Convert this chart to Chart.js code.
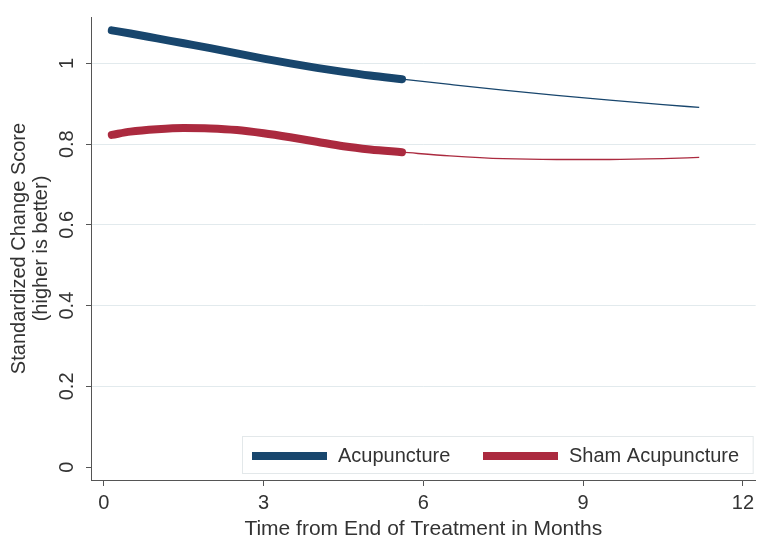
<!DOCTYPE html>
<html>
<head>
<meta charset="utf-8">
<script src="https://cdn.jsdelivr.net/npm/chart.js@4/dist/chart.umd.min.js"></script>
<style>
  html, body { margin: 0; padding: 0; background: #fff; }
  #wrap { width: 759px; height: 541px; position: relative; }
</style>
</head>
<body>
<div id="wrap"><canvas id="c"></canvas></div>
<script>
// Months after end of treatment: observed follow-up window and projected window
const obsMonths  = [0.15, 0.5, 1, 1.5, 2, 2.5, 3, 3.5, 4, 4.5, 5, 5.6];
const projMonths = [5.6, 6.5, 7.5, 8.5, 9.5, 10.5, 11.18];

// Standardized change score, acupuncture group
const acuObs  = [1.082, 1.074, 1.062, 1.050, 1.038, 1.025, 1.012, 1.000, 0.989, 0.979, 0.970, 0.961];
const acuProj = [0.961, 0.948, 0.934, 0.921, 0.909, 0.898, 0.891];

// Standardized change score, sham acupuncture group
const shamObs  = [0.823, 0.831, 0.837, 0.840, 0.839, 0.835, 0.827, 0.817, 0.806, 0.795, 0.787, 0.780];
const shamProj = [0.780, 0.771, 0.764, 0.762, 0.762, 0.764, 0.767];

// Axis ticks
const xTicks = [0, 3, 6, 9, 12];
const yTicks = [0, 0.2, 0.4, 0.6, 0.8, 1];

const seriesNames = ['Acupuncture', 'Sham Acupuncture'];
const BLUE = '#18466d';
const RED  = '#ab2a3f';
const FONT = "'Liberation Sans', Arial, sans-serif";
const TEXT = '#333';
const AXIS = '#555';

const pts = (xs, ys) => xs.map((x, i) => ({ x, y: ys[i] }));

// Legend drawn inside the plot region, lower right, framed box
const boxedLegend = {
  id: 'boxedLegend',
  afterDatasetsDraw(chart) {
    const ctx = chart.ctx;
    const a = chart.chartArea;
    const left = 242.5, top = 436.5, right = a.right - 2.5, bottom = 473.5;
    ctx.save();
    ctx.fillStyle = '#fff';
    ctx.fillRect(left, top, right - left, bottom - top);
    ctx.strokeStyle = '#e3e8ea';
    ctx.lineWidth = 1;
    ctx.strokeRect(left, top, right - left, bottom - top);
    const entries = chart.data.datasets.filter(d => d.legendEntry);
    const xs = [252, 483];
    const cy = 456;
    ctx.font = '20px ' + FONT;
    ctx.textBaseline = 'middle';
    entries.forEach((d, i) => {
      ctx.strokeStyle = d.borderColor;
      ctx.lineWidth = 8;
      ctx.lineCap = 'butt';
      ctx.beginPath();
      ctx.moveTo(xs[i], cy);
      ctx.lineTo(xs[i] + 75, cy);
      ctx.stroke();
      ctx.fillStyle = TEXT;
      ctx.fillText(d.label, xs[i] + 86, cy);
    });
    ctx.restore();
  }
};

new Chart(document.getElementById('c'), {
  type: 'line',
  data: {
    datasets: [
      { label: seriesNames[0], legendEntry: true, data: pts(obsMonths, acuObs),
        borderColor: BLUE, borderWidth: 8, borderCapStyle: 'round', borderJoinStyle: 'round' },
      { label: seriesNames[0] + ' (projected)', data: pts(projMonths, acuProj),
        borderColor: BLUE, borderWidth: 1.3 },
      { label: seriesNames[1], legendEntry: true, data: pts(obsMonths, shamObs),
        borderColor: RED, borderWidth: 8, borderCapStyle: 'round', borderJoinStyle: 'round' },
      { label: seriesNames[1] + ' (projected)', data: pts(projMonths, shamProj),
        borderColor: RED, borderWidth: 1.3 }
    ]
  },
  options: {
    responsive: true,
    maintainAspectRatio: false,
    animation: false,
    events: [],
    layout: { padding: { top: 12, right: 0, bottom: 0, left: 0 } },
    elements: {
      point: { radius: 0 },
      line: { tension: 0.4, cubicInterpolationMode: 'monotone', fill: false }
    },
    plugins: { legend: { display: false }, tooltip: { enabled: false } },
    scales: {
      x: {
        type: 'linear',
        min: -0.24, max: 12.24,
        afterBuildTicks: s => { s.ticks = xTicks.map(v => ({ value: v })); },
        afterFit: s => { s.height = 61; },
        border: { display: true, color: AXIS, width: 1 },
        grid: { drawOnChartArea: false, drawTicks: true, tickLength: 6, tickColor: AXIS },
        ticks: { color: TEXT, font: { family: FONT, size: 20 }, padding: 5, maxRotation: 0,
                 callback: v => String(v) },
        title: { display: true, text: 'Time from End of Treatment in Months', color: TEXT,
                 font: { family: FONT, size: 21, lineHeight: 1.1 }, padding: { top: 0, bottom: 0 } }
      },
      y: {
        type: 'linear',
        min: -0.032, max: 1.115,
        afterBuildTicks: s => { s.ticks = yTicks.map(v => ({ value: v })); },
        afterFit: s => { s.width = 91; },
        border: { display: true, color: AXIS, width: 1 },
        grid: {
          drawOnChartArea: true, drawTicks: true, tickLength: 5, tickColor: AXIS, lineWidth: 1,
          color: c => (c.tick && c.tick.value === 0) ? 'rgba(0,0,0,0)' : '#e2eaed'
        },
        ticks: { color: TEXT, font: { family: FONT, size: 20 }, minRotation: 90, maxRotation: 90,
                 crossAlign: 'center', padding: 5, callback: v => String(v) },
        title: { display: true, text: ['Standardized Change Score', '(higher is better)'], color: TEXT,
                 font: { family: FONT, size: 20, lineHeight: 1.12 }, padding: { top: 8, bottom: 0 } }
      }
    }
  },
  plugins: [boxedLegend]
});
</script>
</body>
</html>
